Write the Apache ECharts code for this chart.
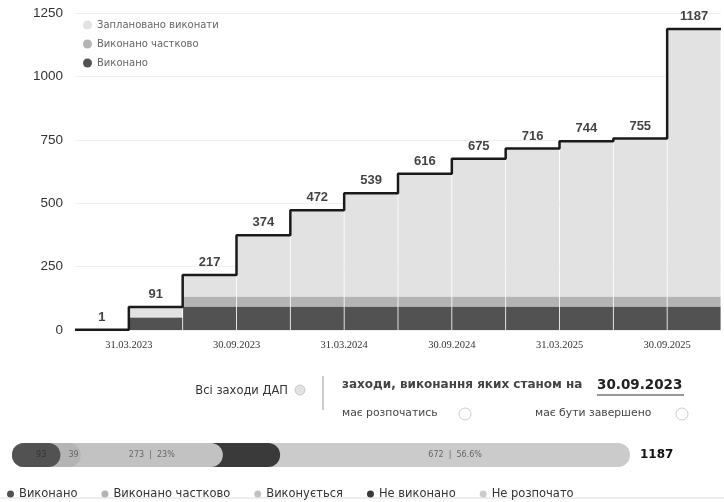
<!DOCTYPE html>
<html>
<head>
<meta charset="utf-8">
<script src="https://cdn.jsdelivr.net/npm/echarts@6/dist/echarts.min.js"></script>
<style>
  html, body { margin: 0; padding: 0; background: #fff; }
  #chart { width: 724px; height: 502px; }
</style>
</head>
<body>
<div id="chart"></div>
<script>
// квартали, межі кварталів (підписи осі) та значення
var quarters = ['I 2023', 'II 2023', 'III 2023', 'IV 2023', 'I 2024', 'II 2024', 'III 2024', 'IV 2024', 'I 2025', 'II 2025', 'III 2025', 'IV 2025'];
var boundaryDates = ['31.12.2022', '31.03.2023', '30.06.2023', '30.09.2023', '31.12.2023', '31.03.2024', '30.06.2024', '30.09.2024', '31.12.2024', '31.03.2025', '30.06.2025', '30.09.2025', '31.12.2025'];
var totalPlanned = [1, 91, 217, 374, 472, 539, 616, 675, 716, 744, 755, 1187];
var doneValues = [0, 47, 93, 93, 93, 93, 93, 93, 93, 93, 93, 93];
var partialValues = [0, 5, 39, 39, 39, 39, 39, 39, 39, 39, 39, 39];
var plannedValues = [1, 39, 85, 242, 340, 407, 484, 543, 584, 612, 623, 1055];

// стан виконання всіх заходів
var statusNames = ['Виконано', 'Виконано частково', 'Виконується', 'Не виконано', 'Не розпочато'];
var statusValues = [93, 39, 273, 110, 672];
var statusColors = ['#525252', '#b4b4b4', '#c2c2c2', '#3a3a3a', '#cbcbcb'];
var statusTotal = 1187;

var chart = echarts.init(document.getElementById('chart'));

// дані для ступінчастої лінії
var stepData = totalPlanned.map(function (v, i) { return [i, v]; });
stepData.push([totalPlanned.length, totalPlanned[totalPlanned.length - 1]]);
var labelData = totalPlanned.map(function (v, i) { return [i + 0.5, v]; });

// накопичені суми для смуги (сегменти з заокругленням накладаються)
var cumulative = [];
statusValues.reduce(function (acc, v) { cumulative.push(acc + v); return acc + v; }, 0);

var statusSeries = [];
for (var k = statusNames.length - 1; k >= 0; k--) {
    statusSeries.push({
        name: statusNames[k],
        type: 'bar',
        xAxisIndex: 2,
        yAxisIndex: 1,
        barWidth: 24,
        barGap: '-100%',
        data: [cumulative[k]],
        itemStyle: { color: statusColors[k], borderRadius: 12 },
        label: k === statusNames.length - 1 ? {
            show: true, position: 'right', distance: 10,
            formatter: String(statusTotal),
            color: '#111', fontWeight: 'bold', fontSize: 12, fontFamily: 'DejaVu Sans'
        } : { show: false },
        silent: true
    });
}
statusValues.forEach(function (v, k) {
    statusSeries.push({
        name: 'lbl' + k,
        type: 'bar',
        stack: 'lbl',
        xAxisIndex: 2,
        yAxisIndex: 1,
        barWidth: 24,
        data: [v],
        itemStyle: { color: 'rgba(0,0,0,0)' },
        label: {
            show: k !== 3,
            position: 'inside',
            offset: [k === 0 ? 5 : (k === 1 ? 3 : 0), 0],
            fontSize: 8,
            color: k === 0 ? '#333' : '#666',
            fontFamily: 'DejaVu Sans',
            formatter: function (p) {
                if (p.value < 100) return String(p.value);
                var pct = Math.round(p.value / statusTotal * 1000) / 10;
                if (p.value < 300) pct = Math.round(pct);
                return p.value + '  |  ' + pct + '%';
            }
        },
        silent: true,
        z: 5
    });
});

var option = {
    animation: false,
    legend: [{
        orient: 'vertical',
        left: 78,
        top: 15,
        icon: 'circle',
        itemWidth: 9,
        itemHeight: 9,
        itemGap: 9,
        data: ['Заплановано виконати', 'Виконано частково', 'Виконано'],
        textStyle: { fontSize: 10, color: '#666', fontFamily: 'DejaVu Sans' },
        selectedMode: false
    }, {
        left: 2,
        top: 483,
        icon: 'circle',
        itemWidth: 7,
        itemHeight: 7,
        itemGap: 24,
        data: statusNames,
        textStyle: { fontSize: 11.5, color: '#333', fontFamily: 'DejaVu Sans' },
        selectedMode: false
    }],
    grid: [
        { left: 75, top: 13, width: 660, height: 317 },
        { left: 12, top: 443, width: 618, height: 24 }
    ],
    xAxis: [{
        type: 'category',
        data: quarters,
        show: false,
        gridIndex: 0
    }, {
        type: 'value',
        gridIndex: 0,
        position: 'bottom',
        min: 0,
        max: boundaryDates.length - 1,
        interval: 1,
        axisLine: { show: false },
        axisTick: { show: false },
        splitLine: { show: false },
        axisLabel: {
            margin: 10,
            fontSize: 10.5,
            color: '#333',
            fontFamily: 'Liberation Serif',
            formatter: function (v) {
                return v % 2 === 1 ? boundaryDates[v] : '';
            }
        }
    }, {
        type: 'value',
        gridIndex: 1,
        min: 0,
        max: statusTotal,
        show: false
    }],
    yAxis: [{
        type: 'value',
        gridIndex: 0,
        min: 0,
        max: 1250,
        interval: 250,
        axisLine: { show: false },
        axisTick: { show: false },
        axisLabel: {
            margin: 12, fontSize: 13.5, color: '#333', fontFamily: 'Liberation Sans',
            formatter: function (v) { return String(v); }
        },
        splitLine: { lineStyle: { color: '#efefef' } }
    }, {
        type: 'category',
        gridIndex: 1,
        data: ['all'],
        show: false
    }],
    series: [{
        name: 'Виконано',
        type: 'bar',
        stack: 'plan',
        barWidth: 53,
        data: doneValues,
        itemStyle: { color: '#525252' },
        silent: true
    }, {
        name: 'Виконано частково',
        type: 'bar',
        stack: 'plan',
        barWidth: 53,
        data: partialValues,
        itemStyle: { color: '#b4b4b4' },
        silent: true
    }, {
        name: 'Заплановано виконати',
        type: 'bar',
        stack: 'plan',
        barWidth: 53,
        data: plannedValues,
        itemStyle: { color: '#e2e2e2' },
        silent: true
    }, {
        name: 'step',
        type: 'line',
        xAxisIndex: 1,
        step: 'end',
        symbol: 'none',
        data: stepData,
        lineStyle: { color: '#1a1a1a', width: 2.5 },
        z: 6,
        silent: true
    }, {
        name: 'totals',
        type: 'scatter',
        xAxisIndex: 1,
        symbolSize: 0,
        data: labelData,
        label: {
            show: true,
            position: 'top',
            distance: 6,
            formatter: function (p) { return p.value[1]; },
            fontSize: 13,
            fontWeight: 'bold',
            color: '#111',
            fontFamily: 'Liberation Sans'
        },
        z: 7,
        silent: true
    }].concat(statusSeries),
    graphic: [
        { type: 'text', right: 436, top: 385, style: { text: 'Всі заходи ДАП', fontSize: 11.5, fill: '#333', fontFamily: 'DejaVu Sans' } },
        { type: 'circle', shape: { cx: 300, cy: 390, r: 5 }, style: { fill: '#e2e2e2', stroke: '#c8c8c8' } },
        { type: 'line', shape: { x1: 323, y1: 376, x2: 323, y2: 410 }, style: { stroke: '#999', lineWidth: 1 } },
        { type: 'text', left: 342, top: 379, style: { text: 'заходи, виконання яких станом на', fontSize: 12, fontWeight: 'bold', fill: '#444', fontFamily: 'DejaVu Sans' } },
        { type: 'text', left: 597, top: 378, style: { text: '30.09.2023', fontSize: 13.5, fontWeight: 'bold', fill: '#222', fontFamily: 'DejaVu Sans' } },
        { type: 'line', shape: { x1: 597, y1: 395, x2: 684, y2: 395 }, style: { stroke: '#333', lineWidth: 1.2 } },
        { type: 'text', left: 342, top: 408, style: { text: 'має розпочатись', fontSize: 10.8, fill: '#444', fontFamily: 'DejaVu Sans' } },
        { type: 'circle', shape: { cx: 465, cy: 414, r: 6 }, style: { fill: '#fff', stroke: '#ccc' } },
        { type: 'text', left: 535, top: 408, style: { text: 'має бути завершено', fontSize: 10.8, fill: '#444', fontFamily: 'DejaVu Sans' } },
        { type: 'circle', shape: { cx: 682, cy: 414, r: 6 }, style: { fill: '#fff', stroke: '#ccc' } },
        { type: 'line', shape: { x1: 0, y1: 498, x2: 724, y2: 498 }, style: { stroke: '#ddd', lineWidth: 1 } }
    ]
};
chart.setOption(option);
</script>
</body>
</html>
